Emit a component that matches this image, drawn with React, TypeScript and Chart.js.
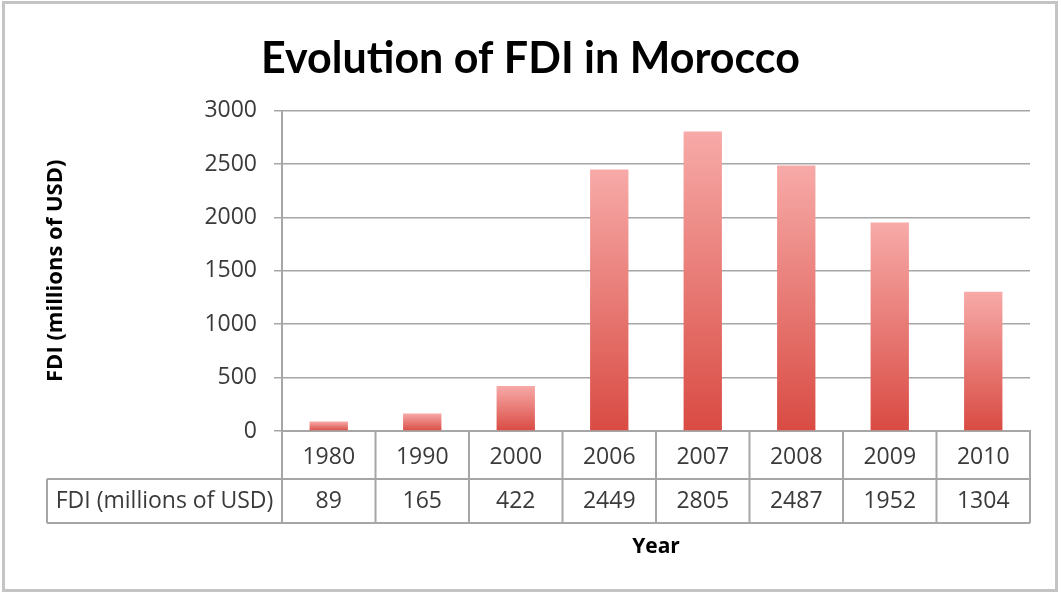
import React, { useEffect, useRef } from 'react';
import { Chart, registerables } from 'chart.js';

Chart.register(...registerables);

const chartTitle = 'Evolution of FDI in Morocco';
const years = ['1980', '1990', '2000', '2006', '2007', '2008', '2009', '2010'];
const fdiValues = [89, 165, 422, 2449, 2805, 2487, 1952, 1304];
const seriesLabel = 'FDI (millions of USD)';
const yAxisTitle = 'FDI (millions of USD)';
const xAxisTitle = 'Year';
const yMin = 0;
const yMax = 3000;
const yStep = 500;

export default function App() {
  const ref = useRef<HTMLCanvasElement>(null);

  useEffect(() => {
    const canvas = ref.current;
    if (!canvas) return;
    const W = 1061;
    const H = 594;
    const gridColor = '#a6a6a6';
    const textColor = '#3a3a3a';
    const tableFontSize = 23;
    const tableFamily = '"Open Sans", sans-serif';
    const headerRowH = 48;
    const dataRowH = 44;
    const labelCellLeft = 47;

    const framePlugin = {
      id: 'frame',
      beforeDraw(chart: any) {
        const ctx = chart.ctx;
        ctx.save();
        ctx.fillStyle = '#ffffff';
        ctx.fillRect(0, 0, W, H);
        ctx.strokeStyle = '#c4c4c4';
        ctx.lineWidth = 3;
        ctx.strokeRect(3.5, 2.5, 1053, 588);
        ctx.restore();
      },
    };

    const tablePlugin = {
      id: 'dataTable',
      afterDraw(chart: any) {
        const xs = chart.scales.x;
        const area = chart.chartArea;
        const ctx = chart.ctx;
        const top = area.bottom;
        const rowTop = top + headerRowH;
        const rowBottom = rowTop + dataRowH;
        const n = years.length;
        const bounds: number[] = [xs.left];
        for (let i = 1; i < n; i++) {
          bounds.push((xs.getPixelForValue(i - 1) + xs.getPixelForValue(i)) / 2);
        }
        bounds.push(xs.right);

        ctx.save();
        ctx.strokeStyle = gridColor;
        ctx.lineWidth = 2;
        ctx.beginPath();
        ctx.moveTo(labelCellLeft, rowTop);
        ctx.lineTo(xs.right, rowTop);
        ctx.moveTo(labelCellLeft, rowBottom);
        ctx.lineTo(xs.right, rowBottom);
        ctx.moveTo(labelCellLeft, rowTop);
        ctx.lineTo(labelCellLeft, rowBottom);
        bounds.forEach((bx) => {
          ctx.moveTo(bx, top);
          ctx.lineTo(bx, rowBottom);
        });
        ctx.stroke();

        ctx.fillStyle = textColor;
        ctx.font = `${tableFontSize}px ${tableFamily}`;
        ctx.textAlign = 'center';
        ctx.textBaseline = 'middle';
        const cy = (rowTop + rowBottom) / 2;
        ctx.fillText(seriesLabel, (labelCellLeft + xs.left) / 2, cy);
        fdiValues.forEach((v, i) => {
          ctx.fillText(String(v), xs.getPixelForValue(i), cy);
        });
        ctx.restore();
      },
    };

    const chart = new Chart(canvas, {
      type: 'bar',
      data: {
        labels: years,
        datasets: [
          {
            label: seriesLabel,
            data: fdiValues,
            backgroundColor: (c: any) => {
              const ch = c.chart;
              if (!ch.chartArea || c.raw == null) return '#e06a66';
              const ys = ch.scales.y;
              const yTop = ys.getPixelForValue(c.raw);
              const yBot = ys.getPixelForValue(0);
              const g = ch.ctx.createLinearGradient(0, yTop, 0, yBot);
              g.addColorStop(0, '#f7aaa8');
              g.addColorStop(1, '#d94b43');
              return g;
            },
            borderWidth: 0,
            categoryPercentage: 1,
            barPercentage: 0.41,
          },
        ],
      },
      options: {
        responsive: false,
        animation: false,
        layout: { padding: { left: 0, right: 0, top: 0, bottom: 0 } },
        plugins: {
          legend: { display: false },
          tooltip: { enabled: false },
          title: {
            display: true,
            text: chartTitle,
            color: '#000000',
            font: { family: 'Lato, sans-serif', size: 43, weight: 'bold', lineHeight: 1.2 },
            padding: { top: 33, bottom: 26 },
          },
        },
        scales: {
          x: {
            grid: { display: false, drawTicks: false },
            border: { display: true, color: gridColor, width: 2 },
            ticks: {
              color: textColor,
              font: { family: tableFamily, size: tableFontSize },
              padding: 13,
              maxRotation: 0,
            },
            title: {
              display: true,
              text: xAxisTitle,
              color: '#000000',
              font: { family: tableFamily, size: 21, weight: 'bold', lineHeight: 1.2 },
              padding: { top: 0, bottom: 34 },
            },
            afterFit(scale: any) {
              scale.height = 163;
            },
          },
          y: {
            min: yMin,
            max: yMax,
            ticks: {
              stepSize: yStep,
              color: textColor,
              font: { family: tableFamily, size: tableFontSize },
              padding: 17,
              callback: (v: any) => String(v),
            },
            grid: { color: gridColor, lineWidth: 1.5, tickLength: 8, tickColor: gridColor },
            border: { display: true, color: gridColor, width: 2 },
            title: {
              display: true,
              text: yAxisTitle,
              color: '#000000',
              font: { family: tableFamily, size: 22, weight: 'bold', lineHeight: 1.2 },
              padding: { top: 43, bottom: 0 },
            },
            afterFit(scale: any) {
              scale.width = 282;
            },
          },
          yRightSpace: {
            type: 'linear',
            position: 'right',
            display: true,
            grid: { display: false, drawTicks: false },
            border: { display: false },
            ticks: { display: false },
            afterFit(scale: any) {
              scale.width = 31;
            },
          },
        },
      },
      plugins: [framePlugin, tablePlugin],
    });

    return () => {
      chart.destroy();
    };
  }, []);

  return (
    <div style={{ position: 'absolute', left: 0, top: 0, width: 1061, height: 594 }}>
      <canvas ref={ref} width={1061} height={594} style={{ display: 'block' }} />
    </div>
  );
}
